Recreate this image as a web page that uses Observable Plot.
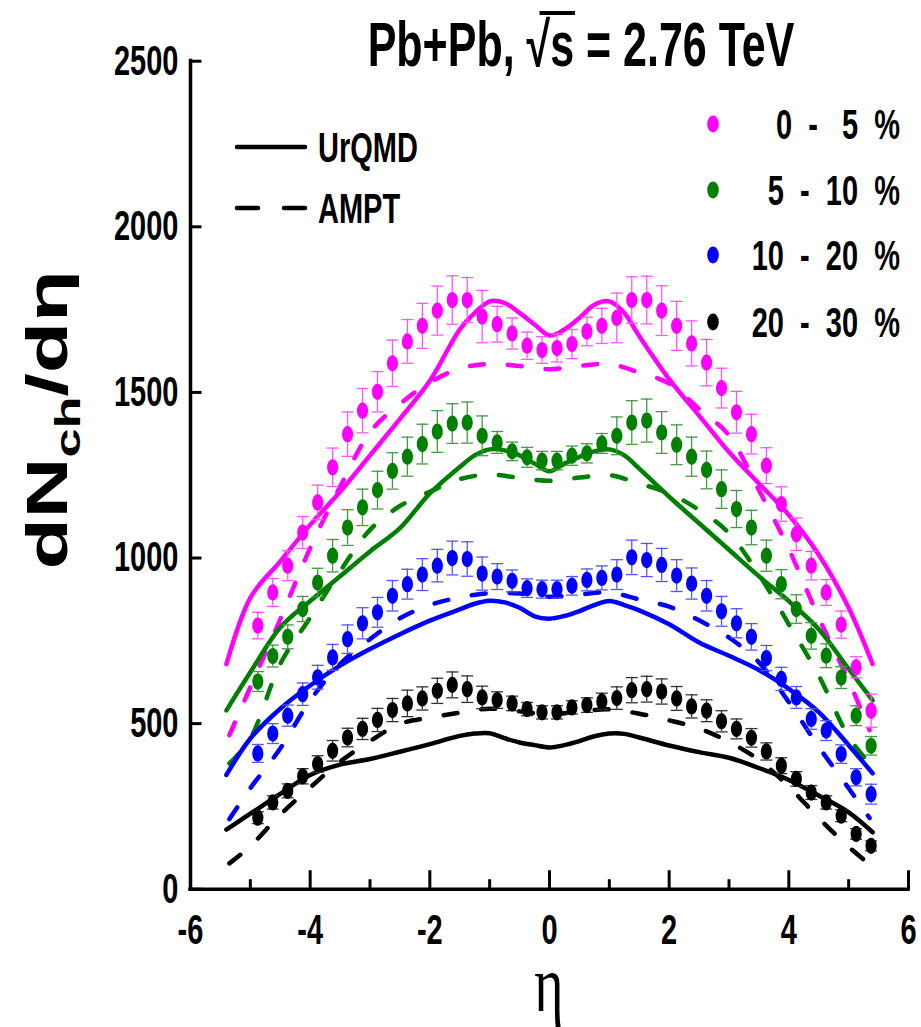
<!DOCTYPE html>
<html>
<head>
<meta charset="utf-8">
<script src="https://cdn.jsdelivr.net/npm/d3@7"></script>
<script src="https://cdn.jsdelivr.net/npm/@observablehq/plot@0.6"></script>
<style>
html, body { margin: 0; padding: 0; background: #ffffff; overflow: hidden; }
#chart text { white-space: pre; }
</style>
</head>
<body>
<div id="chart"></div>
<script>
// ---------- data ----------
const eta = [-4.875,-4.625,-4.375,-4.125,-3.875,-3.625,-3.375,-3.125,-2.875,-2.625,-2.375,-2.125,-1.875,-1.625,-1.375,-1.125,-0.875,-0.625,-0.375,-0.125,
             0.125,0.375,0.625,0.875,1.125,1.375,1.625,1.875,2.125,2.375,2.625,2.875,3.125,3.375,3.625,3.875,4.125,4.375,4.625,4.875,5.125,5.375];

const c0_5   = [796,896,977,1077,1168,1274,1374,1445,1502,1588,1654,1701,1747,1779,1779,1729,1706,1678,1641,1628,
                1634,1646,1684,1701,1725,1779,1779,1747,1701,1648,1590,1513,1440,1374,1279,1163,1072,977,896,799,670,539];
const e0_5   = [40,42,45,48,52,58,67,67,61,70,66,68,74,73,68,79,54,47,41,40,
                42,44,43,53,75,70,72,75,74,68,70,60,63,60,54,52,49,43,39,41,32,50];
const c5_10  = [627,704,762,846,926,1007,1092,1153,1205,1263,1306,1344,1382,1406,1409,1369,1349,1322,1304,1294,
                1294,1309,1316,1346,1369,1409,1415,1379,1342,1306,1266,1208,1148,1092,1007,921,846,765,705,639,524,433];
const e5_10  = [30,33,36,38,43,49,54,55,57,55,59,60,63,60,62,60,33,28,30,28,
                28,29,29,30,57,66,65,63,60,59,57,58,56,52,47,44,43,40,36,33,30,28];
const c10_20 = [410,470,524,589,640,700,755,803,836,886,921,950,977,1000,997,953,944,931,909,906,
                906,916,934,940,950,1002,994,979,947,923,886,839,803,762,698,635,579,514,479,408,338,287];
const e10_20 = [27,30,32,34,36,39,43,47,45,46,45,48,49,51,52,50,39,33,28,27,
                27,28,33,36,45,52,50,50,48,47,46,45,44,40,38,35,33,31,30,28,26,30];
const c20_30 = [216,262,297,341,378,418,458,484,511,541,561,576,599,617,604,579,571,561,544,534,
                534,549,556,567,577,601,604,597,576,552,539,507,484,457,416,373,333,292,262,222,167,131];
const e20_30 = [18,20,21,23,25,31,28,32,35,35,40,35,38,39,40,34,25,22,20,20,
                20,20,22,25,34,38,39,38,36,35,33,32,30,28,26,24,22,21,20,18,16,15];

// UrQMD (solid)
const etaU   = [-5.4,-5.0,-4.5,-4.0,-3.5,-3.0,-2.5,-2.0,-1.5,-1.25,-1.0,-0.75,-0.5,-0.25,0,0.25,0.5,0.75,1.0,1.25,1.5,2.0,2.5,3.0,3.5,4.0,4.5,5.0,5.4];
const u0_5   = [680,880,990,1100,1200,1310,1420,1535,1690,1740,1775,1770,1740,1705,1672,1690,1725,1765,1775,1740,1670,1540,1430,1320,1225,1130,1010,850,680];
const u5_10  = [540,655,790,870,945,1020,1090,1195,1275,1310,1328,1325,1310,1285,1262,1285,1305,1322,1328,1310,1270,1185,1105,1025,945,870,785,665,570];
const u10_20 = [345,455,545,615,675,725,770,811,845,862,871,866,850,824,817,825,840,858,870,858,842,800,745,705,662,605,535,435,350];
const u20_30 = [180,228,288,345,376,393,415,438,463,470,471,456,443,435,428,435,447,462,470,469,458,434,414,397,366,330,283,232,172];

// AMPT (dashed)
const etaA   = [-5.35,-5.0,-4.5,-4.0,-3.5,-3.0,-2.5,-2.0,-1.5,-1.0,-0.5,0,0.5,1.0,1.5,2.0,2.5,3.0,3.5,4.0,4.5,5.0,5.35];
const a0_5   = [465,610,815,1030,1215,1380,1465,1530,1572,1586,1580,1570,1580,1586,1560,1527,1450,1370,1205,1027,820,630,480];
const a5_10  = [380,455,680,820,960,1085,1157,1200,1238,1252,1242,1233,1243,1250,1225,1195,1145,1075,950,800,645,460,380];
const a10_20 = [212,305,425,570,680,755,818,858,881,894,893,883,890,896,875,853,812,760,685,565,430,305,215];
const a20_30 = [78,130,225,307,385,447,499,518,533,545,537,528,537,543,530,510,485,445,390,310,215,128,75];

const labels = ["0  -   5  %", "5  -  10  %", "10  -  20  %", "20  -  30  %"];
const colors = ["#ff00ff", "#008000", "#0000ff", "#000000"];
const barColors = ["#ff55ff", "#449944", "#5555ff", "#333333"];

const xMajor = [-6,-4,-2,0,2,4,6];
const xMinor = [-5,-3,-1,1,3,5];
const yTicks = [0,500,1000,1500,2000,2500];

// ---------- layout ----------
const K = 1.45;               // vertical stretch of the reference picture
const W = 921, HS = 1027, H = HS / K;
const SANS = "'Liberation Sans', Arial, Helvetica, sans-serif";
const SERIF = "'Liberation Serif', 'Times New Roman', serif";

const series = [
  {vals: c0_5,   errs: e0_5,   u: u0_5,   a: a0_5},
  {vals: c5_10,  errs: e5_10,  u: u5_10,  a: a5_10},
  {vals: c10_20, errs: e10_20, u: u10_20, a: a10_20},
  {vals: c20_30, errs: e20_30, u: u20_30, a: a20_30}
].map((s, i) => ({...s, color: colors[i], bar: barColors[i], label: labels[i]}));

const capSym = {draw(ctx) { ctx.moveTo(-6, 0); ctx.lineTo(6, 0); }};
const tickUp = L => ({draw(ctx) { ctx.moveTo(0, 0); ctx.lineTo(0, -L); }});
const tickRight = L => ({draw(ctx) { ctx.moveTo(0, 0); ctx.lineTo(L, 0); }});

const marks = [];
for (const s of series) {
  const uData = etaU.map((x, i) => ({eta: x, v: s.u[i]}));
  const aData = etaA.map((x, i) => ({eta: x, v: s.a[i]}));
  marks.push(Plot.line(uData, {x: "eta", y: "v", stroke: s.color, strokeWidth: 4.5, curve: "catmull-rom", strokeLinejoin: "round", strokeLinecap: "round"}));
  marks.push(Plot.line(aData, {x: "eta", y: "v", stroke: s.color, strokeWidth: 4.5, curve: "catmull-rom", strokeDasharray: "14,24", strokeLinecap: "round"}));
}
for (const s of series) {
  const pts = eta.map((x, i) => ({eta: x, v: s.vals[i], e: s.errs[i]}));
  marks.push(Plot.ruleX(pts, {x: "eta", y1: d => d.v - d.e, y2: d => d.v + d.e, stroke: s.bar, strokeWidth: 1.3}));
  marks.push(Plot.dot(pts, {x: "eta", y: d => d.v + d.e, symbol: capSym, fill: "none", stroke: s.bar, strokeWidth: 1.3}));
  marks.push(Plot.dot(pts, {x: "eta", y: d => d.v - d.e, symbol: capSym, fill: "none", stroke: s.bar, strokeWidth: 1.3}));
  marks.push(Plot.dot(pts, {x: "eta", y: "v", r: 5.6, fill: s.color}));
}
// axes
marks.push(Plot.ruleY([0], {stroke: "#000", strokeWidth: 3.5, strokeLinecap: "square"}));
marks.push(Plot.ruleX([-6], {stroke: "#000", strokeWidth: 3.5, strokeLinecap: "square"}));
marks.push(Plot.dot(xMajor, {x: d => d, y: 0, symbol: tickUp(19 / K), fill: "none", stroke: "#000", strokeWidth: 3}));
marks.push(Plot.dot(xMinor, {x: d => d, y: 0, symbol: tickUp(10 / K), fill: "none", stroke: "#000", strokeWidth: 3}));
marks.push(Plot.dot(yTicks, {x: -6, y: d => d, symbol: tickRight(11), fill: "none", stroke: "#000", strokeWidth: 3}));
marks.push(Plot.text(yTicks, {x: -6, y: d => d, text: d => String(d), textAnchor: "end", dx: -12, fontSize: 29, fontWeight: "bold", fontFamily: SANS, fill: "#000"}));
marks.push(Plot.text(xMajor, {x: d => d, y: 0, text: d => (d < 0 ? "-" + (-d) : String(d)), dy: 41.5 / K, fontSize: 29, fontWeight: "bold", fontFamily: SANS, fill: "#000"}));

const svg = Plot.plot({
  width: W, height: H,
  marginLeft: 190, marginRight: 13, marginTop: 60.5 / K, marginBottom: 138.5 / K,
  x: {domain: [-6, 6], axis: null},
  y: {domain: [0, 2500], axis: null},
  style: {background: "#ffffff"},
  marks
});

svg.setAttribute("viewBox", `0 0 ${W} ${H}`);
svg.setAttribute("width", W);
svg.setAttribute("height", HS);
svg.setAttribute("preserveAspectRatio", "none");
svg.style.width = W + "px";
svg.style.height = HS + "px";
svg.style.maxWidth = "none";

const S = d3.select(svg);
function txt(x, yScreen, str, size, o = {}) {
  return S.append("text")
    .attr("x", x).attr("y", yScreen / K)
    .attr("font-family", o.family || SANS)
    .attr("font-size", size)
    .attr("font-weight", o.weight || "bold")
    .attr("text-anchor", o.anchor || "start")
    .attr("fill", "#000")
    .text(str);
}

// title
const title = S.append("text")
  .attr("x", 581).attr("y", 66 / K)
  .attr("font-family", SANS).attr("font-size", 43).attr("font-weight", "bold")
  .attr("text-anchor", "middle").attr("fill", "#000");
title.append("tspan").text("Pb+Pb, ");
title.append("tspan").text("\u221As");
title.append("tspan").text(" = 2.76 TeV");

// y label
const yl = S.append("text")
  .attr("transform", `translate(67,${420 / K}) rotate(-90)`)
  .attr("font-family", SANS).attr("font-size", 58).attr("font-weight", "bold")
  .attr("text-anchor", "middle").attr("fill", "#000");
yl.append("tspan").text("dN");
yl.append("tspan").attr("font-size", 36).attr("dy", 13).text("ch");
yl.append("tspan").attr("dy", -13).text("/d\u03b7");

// x label
txt(549, 1011, "\u03b7", 56, {family: SERIF, weight: "normal", anchor: "middle"});

// legend (models)
const lg = S.append("g").attr("stroke", "#000").attr("stroke-width", 4.5).attr("stroke-linecap", "round");
lg.append("line").attr("x1", 237).attr("x2", 305).attr("y1", 147 / K).attr("y2", 147 / K);
lg.append("line").attr("x1", 237).attr("x2", 305).attr("y1", 208 / K).attr("y2", 208 / K).attr("stroke-dasharray", "21,26");
txt(318, 162, "UrQMD", 29);
txt(318, 223, "AMPT", 29);

// legend (centralities)
const legY = [124, 190, 255, 322];
series.forEach((s, i) => {
  S.append("circle").attr("cx", 713).attr("cy", legY[i] / K).attr("r", 5.8).attr("fill", s.color);
  txt(900, legY[i] + 15, s.label, 29, {anchor: "end"});
});

document.getElementById("chart").appendChild(svg);

// overline above the square-root
const tn = title.node();
const p0 = tn.getStartPositionOfChar(7);
const e0 = tn.getEndPositionOfChar(7);
const e1 = tn.getEndPositionOfChar(8);
S.append("line")
  .attr("x1", p0.x + 0.55 * (e0.x - p0.x)).attr("x2", e1.x + 1)
  .attr("y1", 13 / K).attr("y2", 13 / K)
  .attr("stroke", "#000").attr("stroke-width", 4);

svg.querySelectorAll("path, line, circle").forEach(e => e.setAttribute("vector-effect", "non-scaling-stroke"));
</script>
</body>
</html>
